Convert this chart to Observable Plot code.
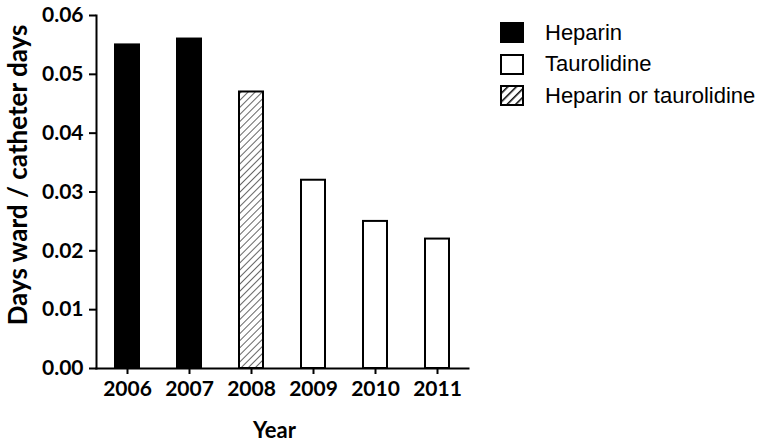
<!DOCTYPE html>
<html>
<head>
<meta charset="utf-8">
<script src="https://cdn.jsdelivr.net/npm/d3@7"></script>
<script src="https://cdn.jsdelivr.net/npm/@observablehq/plot@0.6"></script>
<style>
  html, body { margin: 0; padding: 0; background: #fff; }
  #wrap { position: relative; width: 763px; height: 445px; }
  #legend { position: absolute; left: 500px; top: 17px; font-family: "Liberation Sans", Arial, sans-serif; font-size: 22px; color: #000; }
  .item { display: flex; align-items: center; height: 31.5px; }
  .item svg { margin-right: 21px; }
</style>
</head>
<body>
<div id="wrap"></div>
<script>
const years = ["2006", "2007", "2008", "2009", "2010", "2011"];
const values = [0.055, 0.056, 0.047, 0.032, 0.025, 0.022];
const groups = ["Heparin", "Heparin", "Heparin or taurolidine", "Taurolidine", "Taurolidine", "Taurolidine"];
const yTicks = [0, 0.01, 0.02, 0.03, 0.04, 0.05, 0.06];
const legendItems = ["Heparin", "Taurolidine", "Heparin or taurolidine"];
const xTitle = "Year";
const yTitle = "Days ward / catheter days";
const fills = {"Heparin": "#000", "Taurolidine": "#fff", "Heparin or taurolidine": "url(#hatch)"};

const data = years.map((y, i) => ({year: y, value: values[i], group: groups[i]}));

const defs = () => {
  const d = d3.create("svg:defs");
  const p = d.append("pattern").attr("id", "hatch").attr("patternUnits", "userSpaceOnUse")
    .attr("width", 5).attr("height", 5).attr("patternTransform", "rotate(45)");
  p.append("rect").attr("width", 5).attr("height", 5).attr("fill", "#fff");
  p.append("line").attr("x1", 0).attr("y1", 0).attr("x2", 0).attr("y2", 5)
    .attr("stroke", "#000").attr("stroke-width", 1.2);
  return d.node();
};

const bold = {fontFamily: "Lato, sans-serif", fontWeight: "bold"};

const chart = Plot.plot({
  width: 763,
  height: 445,
  marginTop: 15,
  marginBottom: 77,
  marginLeft: 96,
  marginRight: 295,
  style: {fontFamily: "Lato, sans-serif", background: "#fff", color: "#000"},
  x: {domain: years, paddingInner: 0.61, paddingOuter: 0.305},
  y: {domain: [0, 0.06]},
  marks: [
    defs,
    Plot.barY(data, {x: "year", y: "value", fill: d => fills[d.group], stroke: "#000", strokeWidth: 2}),
    Plot.axisY({ticks: yTicks, tickFormat: d3.format(".2f"), tickSize: 7, tickPadding: 6, strokeWidth: 2,
      fontSize: 21, ...bold, label: null}),
    Plot.axisX({tickSize: 6, tickPadding: 7, strokeWidth: 2, fontSize: 21, ...bold, label: null}),
    Plot.text([xTitle], {frameAnchor: "bottom", text: d => d, dx: -8, dy: 62, fontSize: 22, ...bold, lineAnchor: "middle"}),
    Plot.text([yTitle], {frameAnchor: "left", text: d => d, rotate: -90, textAnchor: "middle", dx: -78, dy: -17, fontSize: 26, ...bold, lineAnchor: "middle"}),
    Plot.frame({anchor: "left", strokeWidth: 2}),
    Plot.frame({anchor: "bottom", strokeWidth: 2})
  ]
});

const wrap = document.getElementById("wrap");
wrap.appendChild(chart);

const legend = document.createElement("div");
legend.id = "legend";
legendItems.forEach(name => {
  const row = document.createElement("div");
  row.className = "item";
  const sw = d3.create("svg").attr("width", 24).attr("height", 21);
  if (name === "Heparin or taurolidine") {
    const p = sw.append("defs").append("pattern").attr("id", "lhatch").attr("patternUnits", "userSpaceOnUse")
      .attr("width", 6).attr("height", 6).attr("patternTransform", "rotate(45)");
    p.append("rect").attr("width", 6).attr("height", 6).attr("fill", "#fff");
    p.append("line").attr("x1", 0).attr("y1", 0).attr("x2", 0).attr("y2", 6).attr("stroke", "#000").attr("stroke-width", 3);
  }
  sw.append("rect").attr("x", 1).attr("y", 1).attr("width", 22).attr("height", 19)
    .attr("fill", name === "Heparin or taurolidine" ? "url(#lhatch)" : fills[name])
    .attr("stroke", "#000").attr("stroke-width", 2);
  row.appendChild(sw.node());
  const t = document.createElement("span");
  t.textContent = name;
  row.appendChild(t);
  legend.appendChild(row);
});
wrap.appendChild(legend);
</script>
</body>
</html>
